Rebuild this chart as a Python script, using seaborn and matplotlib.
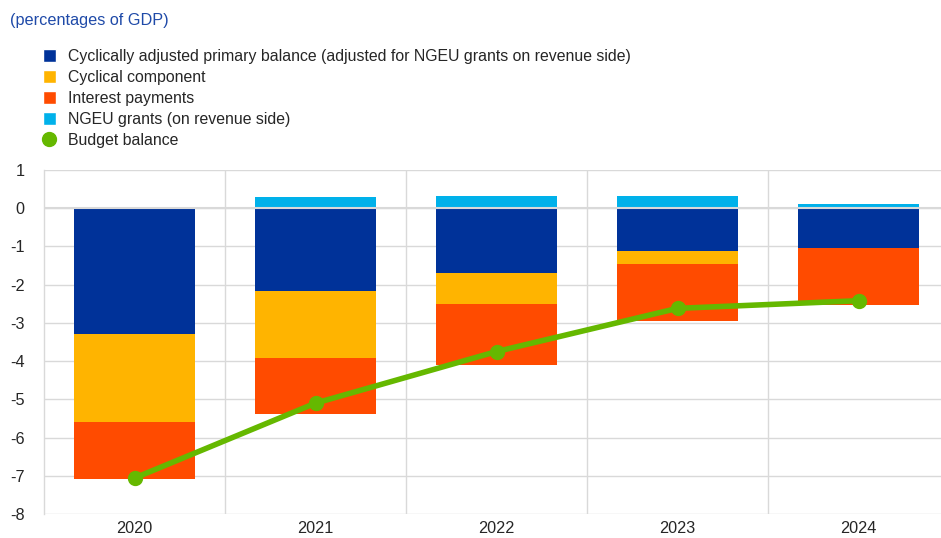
import numpy as np
import pandas as pd
import matplotlib
matplotlib.use("Agg")
import matplotlib.pyplot as plt
from matplotlib.patches import Patch
from matplotlib.lines import Line2D
import seaborn as sns

years = ["2020", "2021", "2022", "2023", "2024"]
capb = [-3.29, -2.17, -1.70, -1.12, -1.05]
cyclical = [-2.29, -1.76, -0.81, -0.33, 0.0]
interest = [-1.51, -1.46, -1.58, -1.51, -1.49]
ngeu = [0.0, 0.30, 0.33, 0.33, 0.12]
budget = [-7.06, -5.10, -3.75, -2.62, -2.42]

labels = ["Cyclically adjusted primary balance (adjusted for NGEU grants on revenue side)",
          "Cyclical component", "Interest payments", "NGEU grants (on revenue side)",
          "Budget balance"]
c_blue, c_yellow, c_red, c_light, c_green = "#003299", "#FFB400", "#FF4B00", "#00B1EA", "#65B800"

sns.set_theme(style="white")
plt.rcParams['font.family'] = ['Liberation Sans', 'DejaVu Sans']

df = pd.DataFrame({"year": years, "capb": capb, "cyc": cyclical, "int": interest,
                   "ngeu": ngeu, "budget": budget})
df["l1"] = df["capb"]
df["l2"] = df["capb"] + df["cyc"]
df["l3"] = df["l2"] + df["int"]

fig = plt.figure(figsize=(9.41, 5.38), dpi=100)
ax = fig.add_axes([44/941, 24/538, 905/941, (514-170)/538])

w = 0.668
kw = dict(width=w, saturation=1, ax=ax, linewidth=0)
sns.barplot(data=df, x="year", y="l3", color=c_red, zorder=2, **kw)
sns.barplot(data=df, x="year", y="l2", color=c_yellow, zorder=3, **kw)
sns.barplot(data=df, x="year", y="l1", color=c_blue, zorder=4, **kw)
sns.barplot(data=df, x="year", y="ngeu", color=c_light, zorder=4, **kw)
sns.pointplot(data=df, x="year", y="budget", color=c_green, ax=ax, markersize=8,
              linewidth=4, zorder=6)

ax.set_xlim(-0.5, 4.5)
ax.set_ylim(-8, 1)
ax.set_yticks(range(-8, 2))
ax.set_yticklabels([str(v) for v in range(-8, 2)], fontsize=11.7)
ax.set_xlabel("")
ax.set_ylabel("")
ax.tick_params(axis="x", labelsize=11.7, length=0, pad=5)
ax.tick_params(axis="y", length=0, pad=14)

gc = "#d9d9d9"
for y in range(-8, 2):
    ax.axhline(y, color=gc, lw=1, zorder=1)
for x in [0.5, 1.5, 2.5, 3.5]:
    ax.axvline(x, color=gc, lw=1, zorder=1)
ax.axhline(0, color=gc, lw=1.5, zorder=5)
for s in ["top", "right", "bottom"]:
    ax.spines[s].set_visible(False)
ax.spines["left"].set_color(gc)
ax.spines["left"].set_linewidth(1)

fig.text(10/941, 1 - 20/538, "(percentages of GDP)", color="#1f4aa8", fontsize=11.7,
         va="center", ha="left")

handles = [Patch(facecolor=c_blue), Patch(facecolor=c_yellow), Patch(facecolor=c_red),
           Patch(facecolor=c_light),
           Line2D([], [], marker="o", color=c_green, linestyle="none", markersize=10)]
fig.legend(handles, labels, loc="upper left", bbox_to_anchor=(43/941, 1 - 49/538),
           frameon=False, fontsize=11.4, handlelength=0.8, handleheight=0.9,
           handletextpad=0.75, labelspacing=0.38, borderaxespad=0, borderpad=0)

fig.savefig("out.png", dpi=100)
